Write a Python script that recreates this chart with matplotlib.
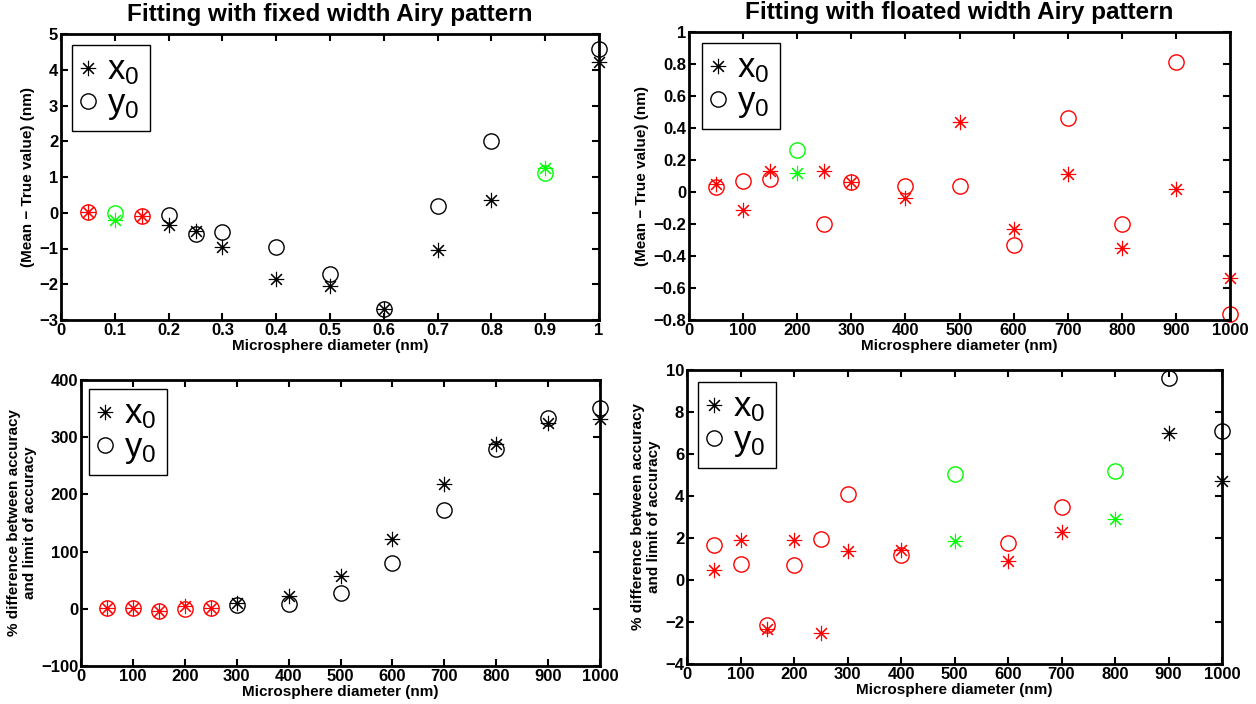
import matplotlib
matplotlib.use("Agg")
import matplotlib.pyplot as plt
from matplotlib.lines import Line2D

plt.rcParams['font.family'] = ['Liberation Sans', 'DejaVu Sans']
plt.rcParams['mathtext.fontset'] = 'custom'
plt.rcParams['mathtext.rm'] = 'Liberation Sans'

# ---------------- data ----------------
# Panel 1: fixed width, mean - true value
p1_x = [0.05, 0.1, 0.15, 0.2, 0.25, 0.3, 0.4, 0.5, 0.6, 0.7, 0.8, 0.9, 1.0]
p1_x0 = [0.02, -0.2, -0.1, -0.35, -0.5, -0.97, -1.85, -2.05, -2.7, -1.05, 0.35, 1.25, 4.22]
p1_y0 = [0.02, -0.02, -0.1, -0.05, -0.6, -0.55, -0.95, -1.7, -2.7, 0.2, 2.0, 1.12, 4.57]
p1_col = ['r', 'g', 'r', 'k', 'k', 'k', 'k', 'k', 'k', 'k', 'k', 'g', 'k']

# Panel 2: floated width, mean - true value
p2_x = [50, 100, 150, 200, 250, 300, 400, 500, 600, 700, 800, 900, 1000]
p2_x0 = [0.05, -0.11, 0.13, 0.12, 0.13, 0.06, -0.04, 0.44, -0.23, 0.11, -0.35, 0.02, -0.54]
p2_y0 = [0.03, 0.07, 0.08, 0.26, -0.20, 0.06, 0.04, 0.04, -0.33, 0.46, -0.20, 0.81, -0.76]
p2_col = ['r', 'r', 'r', 'g', 'r', 'r', 'r', 'r', 'r', 'r', 'r', 'r', 'r']

# Panel 3: fixed width, % difference
p3_x = [50, 100, 150, 200, 250, 300, 400, 500, 600, 700, 800, 900, 1000]
p3_x0 = [1, 1, -3, 5, 1, 10, 22, 58, 122, 218, 288, 325, 332]
p3_y0 = [1, 1, -4, 0, 1, 6, 8, 27, 80, 172, 279, 333, 351]
p3_col = ['r', 'r', 'r', 'r', 'r', 'k', 'k', 'k', 'k', 'k', 'k', 'k', 'k']

# Panel 4: floated width, % difference
p4_x = [50, 100, 150, 200, 250, 300, 400, 500, 600, 700, 800, 900, 1000]
p4_x0 = [0.5, 1.9, -2.35, 1.9, -2.5, 1.4, 1.45, 1.85, 0.9, 2.3, 2.9, 7.0, 4.7]
p4_y0 = [1.65, 0.75, -2.15, 0.7, 1.95, 4.1, 1.2, 5.05, 1.75, 3.5, 5.2, 9.6, 7.1]
p4_col = ['r', 'r', 'r', 'r', 'r', 'r', 'r', 'g', 'r', 'r', 'g', 'k', 'k']

COLORS = {'r': '#ff0000', 'g': '#00ff00', 'k': '#000000'}

titles = ["Fitting with fixed width Airy pattern",
          "Fitting with floated width Airy pattern", None, None]
xlabel = "Microsphere diameter (nm)"
ylabel_top = "(Mean \u2212 True value) (nm)"
ylabel_bot = "% difference between accuracy\nand limit of accuracy"
legend_labels = ['$\\mathregular{x_0}$\u00a0', '$\\mathregular{y_0}$\u00a0']

p1_xticks = [0, 0.1, 0.2, 0.3, 0.4, 0.5, 0.6, 0.7, 0.8, 0.9, 1.0]
p1_xticklabels = ["0", "0.1", "0.2", "0.3", "0.4", "0.5", "0.6", "0.7", "0.8", "0.9", "1"]
p1_yticks = [-3, -2, -1, 0, 1, 2, 3, 4, 5]
nm_xticks = [0, 100, 200, 300, 400, 500, 600, 700, 800, 900, 1000]
p2_yticks = [-0.8, -0.6, -0.4, -0.2, 0, 0.2, 0.4, 0.6, 0.8, 1.0]
p2_yticklabels = ["\u22120.8", "\u22120.6", "\u22120.4", "\u22120.2", "0", "0.2", "0.4", "0.6", "0.8", "1"]
p3_yticks = [-100, 0, 100, 200, 300, 400]
p4_yticks = [-4, -2, 0, 2, 4, 6, 8, 10]

W, H = 1256, 704
fig = plt.figure(figsize=(W / 100, H / 100), dpi=100)

def box(l, t, r, b):
    return [l / W, 1 - b / H, (r - l) / W, (b - t) / H]

axes_boxes = [box(61, 34, 599, 320), box(689, 32, 1230, 320),
              box(81, 380, 600, 666), box(687, 370, 1222, 664)]
legend_boxes = [(72, 45), (702, 43), (89, 389), (698, 382)]

panels = [
    (p1_x, p1_x0, p1_y0, p1_col, (0, 1), (-3, 5), p1_xticks, p1_xticklabels, p1_yticks, None, ylabel_top),
    (p2_x, p2_x0, p2_y0, p2_col, (0, 1000), (-0.8, 1), nm_xticks, None, p2_yticks, p2_yticklabels, ylabel_top),
    (p3_x, p3_x0, p3_y0, p3_col, (0, 1000), (-100, 400), nm_xticks, None, p3_yticks, None, ylabel_bot),
    (p4_x, p4_x0, p4_y0, p4_col, (0, 1000), (-4, 10), nm_xticks, None, p4_yticks, None, ylabel_bot),
]

STAR = (8, 2, 0)
MS = 11

for i, (xs, sx, sy, cols, xl, yl, xt, xtl, yt, ytl, ylab) in enumerate(panels):
    ax = fig.add_axes(axes_boxes[i])
    for xv, a, b, c in zip(xs, sx, sy, cols):
        ax.plot([xv], [a], linestyle='none', marker=STAR, markersize=MS,
                markeredgewidth=0.8, color=COLORS[c], clip_on=False)
        ax.plot([xv], [b], linestyle='none', marker='o', markersize=MS,
                markerfacecolor='none', markeredgewidth=1.0,
                markeredgecolor=COLORS[c], clip_on=False)
    ax.set_xlim(*xl)
    ax.set_ylim(*yl)
    ax.set_xticks(xt)
    if xtl is not None:
        ax.set_xticklabels(xtl)
    ax.set_yticks(yt)
    if ytl is not None:
        ax.set_yticklabels(ytl)
    ax.tick_params(direction='in', length=5, width=1.5, top=True, right=True,
                   labelsize=12, pad=2)
    for lbl in ax.get_xticklabels() + ax.get_yticklabels():
        lbl.set_fontweight('bold')
    for sp in ax.spines.values():
        sp.set_linewidth(2.0)
    ax.set_xlabel(xlabel, fontsize=11, fontweight='bold', labelpad=1)
    ax.set_ylabel(ylab, fontsize=11, fontweight='bold', labelpad=3,
                  linespacing=1.15)
    if titles[i]:
        ax.set_title(titles[i], fontsize=17.5, fontweight='bold', pad=9)
    handles = [Line2D([], [], linestyle='none', marker=STAR, markersize=MS,
                      markeredgewidth=0.8, color='k'),
               Line2D([], [], linestyle='none', marker='o', markersize=MS,
                      markerfacecolor='none', markeredgewidth=1.0, markeredgecolor='k')]
    lx, ly = legend_boxes[i]
    leg = ax.legend(handles, legend_labels,
                    loc='upper left', bbox_to_anchor=(lx / W, 1 - ly / H),
                    bbox_transform=fig.transFigure, fontsize=25,
                    fancybox=False, framealpha=1, edgecolor='k',
                    handlelength=0.45, handletextpad=0.32, borderpad=0.25,
                    labelspacing=0.0, borderaxespad=0)
    leg.get_frame().set_linewidth(1.0)

fig.savefig("out.png", dpi=100)
